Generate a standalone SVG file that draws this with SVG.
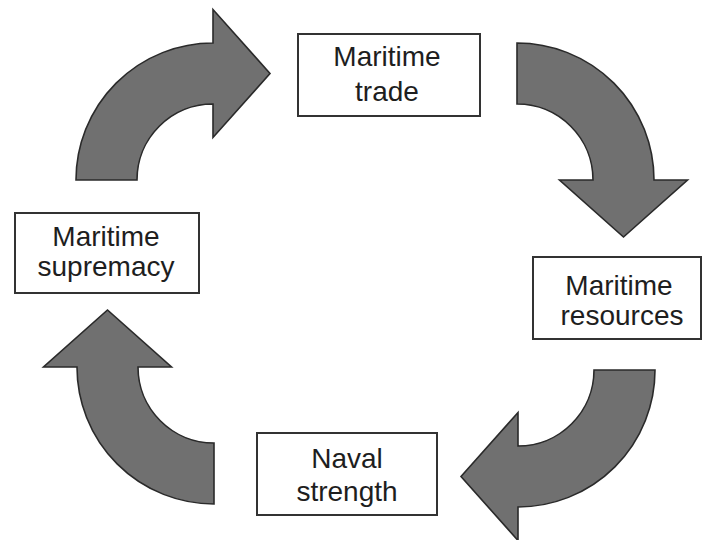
<svg xmlns="http://www.w3.org/2000/svg" width="704" height="540" viewBox="0 0 704 540">
<style>
.arrow{fill:#707070;stroke:#2a2a2a;stroke-width:1.6;stroke-linejoin:miter}
.box{fill:#fff;stroke:#333;stroke-width:2}
.lbl{font-family:"Liberation Sans",Arial,sans-serif;font-size:28px;fill:#1e1e1e;text-anchor:middle}
</style>
<rect width="704" height="540" fill="#fff"/>
<g id="connectors">
<path class="arrow" d="M76,180 A137,137 0 0 1 213,43 L213,9.5 L270,73.5 L213,137.5 L213,104 A76,76 0 0 0 137,180 Z"/>
<path class="arrow" d="M517,43 A137,137 0 0 1 654,180 L687.5,180 L623.5,237 L559.5,180 L593,180 A76,76 0 0 0 517,104 Z"/>
<path class="arrow" d="M655,370 A137,137 0 0 1 518,507 L518,540.5 L461,476.5 L518,412.5 L518,446 A76,76 0 0 0 594,370 Z"/>
<path class="arrow" d="M214,504 A137,137 0 0 1 77,367 L43.5,367 L107.5,310 L171.5,367 L138,367 A76,76 0 0 0 214,443 Z"/>
</g>
<g id="trade">
<rect class="box" x="298" y="34" width="182" height="82"/>
<text class="lbl" x="387" y="66">Maritime</text>
<text class="lbl" x="387" y="101">trade</text>
</g>
<g id="supremacy">
<rect class="box" x="15" y="213" width="184" height="80"/>
<text class="lbl" x="106" y="246">Maritime</text>
<text class="lbl" x="106" y="276">supremacy</text>
</g>
<g id="resources">
<rect class="box" x="533" y="257" width="168" height="82"/>
<text class="lbl" x="619" y="295">Maritime</text>
<text class="lbl" x="622" y="325">resources</text>
</g>
<g id="naval">
<rect class="box" x="257" y="433" width="180" height="82"/>
<text class="lbl" x="347" y="468">Naval</text>
<text class="lbl" x="347" y="501">strength</text>
</g>
</svg>
